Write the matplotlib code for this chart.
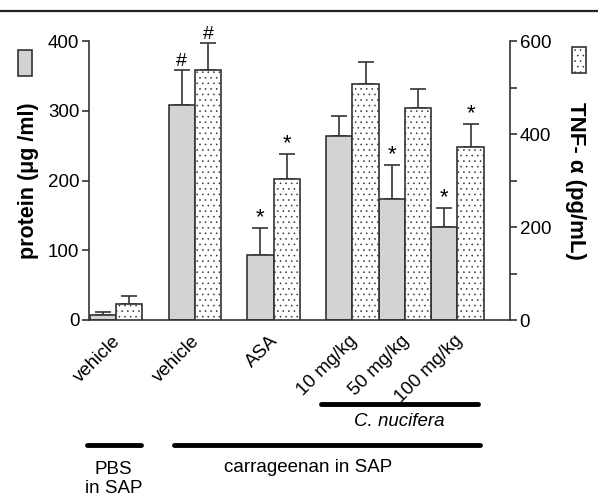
import matplotlib
matplotlib.use("Agg")
import matplotlib.pyplot as plt
from matplotlib.patches import Rectangle
from matplotlib.lines import Line2D
from matplotlib.transforms import ScaledTranslation, blended_transform_factory
import numpy as np

plt.rcParams['font.family'] = ['Liberation Sans', 'DejaVu Sans']
plt.rcParams['hatch.linewidth'] = 0.4

# ---- data ----
categories = ["vehicle", "vehicle", "ASA", "10 mg/kg", "50 mg/kg", "100 mg/kg"]
group_starts = [0, 3, 6, 9, 11, 13]
protein = [7, 308, 93, 264, 174, 133]
protein_err = [4, 51, 39, 28, 48, 27]
tnf = [34, 537, 303, 507, 455, 373]
tnf_err = [18, 58, 53, 47, 42, 48]
protein_marks = ["", "#", "*", "", "*", "*"]
tnf_marks = ["", "#", "*", "", "", "*"]

W, H = 598, 499
fig = plt.figure(figsize=(W / 100, H / 100), dpi=100)
ax = fig.add_axes([89 / W, 1 - 320 / H, (510 - 89) / W, (320 - 41) / H])
ax2 = ax.twinx()

edge = '#333333'
gray = '#d3d3d3'
xs = np.array(group_starts, dtype=float)

ax.bar(xs, protein, width=1, align='edge', color=gray, edgecolor=edge, linewidth=1.2, zorder=2)
ax.errorbar(xs + 0.5, protein, yerr=[np.zeros(len(protein)), protein_err], fmt='none',
            ecolor=edge, elinewidth=1.2, capsize=6, capthick=1.2, zorder=1)
ax2.bar(xs + 1, tnf, width=1, align='edge', color='white', edgecolor=edge, linewidth=1.2,
        hatch='...', zorder=2)
ax2.errorbar(xs + 1.5, tnf, yerr=[np.zeros(len(tnf)), tnf_err], fmt='none',
             ecolor=edge, elinewidth=1.2, capsize=6, capthick=1.2, zorder=1)

for x, v, e, m in zip(xs, protein, protein_err, protein_marks):
    if m:
        ax.annotate(m, (x + 0.5, v + e), xytext=(0, 0), textcoords='offset points',
                    ha='center', va='bottom', fontsize=16 if m == '*' else 14)
for x, v, e, m in zip(xs, tnf, tnf_err, tnf_marks):
    if m:
        ax2.annotate(m, (x + 1.5, v + e), xytext=(0, 0), textcoords='offset points',
                     ha='center', va='bottom', fontsize=16 if m == '*' else 14)

ax.set_xlim(-0.03, 16.0)
ax.set_ylim(0, 400)
ax2.set_ylim(0, 600)
ax.set_yticks([0, 100, 200, 300, 400])
ax2.set_yticks([0, 200, 400, 600])
ax2.set_yticks([100, 300, 500], minor=True)

for a in (ax, ax2):
    a.spines['top'].set_visible(False)
    for s in a.spines.values():
        s.set_linewidth(1.2)
        s.set_color(edge)
ax.spines['right'].set_visible(False)
ax2.spines['left'].set_visible(False)
ax2.spines['bottom'].set_visible(False)

ax.tick_params(axis='y', labelsize=13.5, length=5, width=1.2, color=edge, pad=2)
ax2.tick_params(axis='y', which='both', labelsize=13.5, length=5, width=1.2, color=edge, pad=2)

ax.set_xticks(xs + 1)
ax.set_xticklabels(categories, rotation=45, ha='right', va='top', rotation_mode='anchor', fontsize=13.5)
ax.tick_params(axis='x', length=0, pad=9)
for lbl in ax.get_xticklabels():
    lbl.set_transform(lbl.get_transform() + ScaledTranslation(-4 / 100, 0, fig.dpi_scale_trans))

ax.set_ylabel("protein (\u03bcg /ml)", fontsize=15.5, fontweight='bold', labelpad=6)
ax2.set_ylabel("TNF- \u03b1 (pg/mL)", fontsize=16, fontweight='bold', rotation=270,
               va='bottom', labelpad=10)

# group annotations below the axis
tr = blended_transform_factory(ax.transData, ax.transAxes)
def yfrac(py):
    return (320 - py) / (320 - 41)

ax.add_line(Line2D([8.8, 14.8], [yfrac(404)] * 2, transform=tr, color='black', lw=3.5,
                   solid_capstyle='round', clip_on=False))
ax.text(11.8, yfrac(421), "C. nucifera", transform=tr, ha='center', va='center',
        fontsize=13.5, style='italic')
ax.add_line(Line2D([-0.1, 1.95], [yfrac(445)] * 2, transform=tr, color='black', lw=3.5,
                   solid_capstyle='round', clip_on=False))
ax.add_line(Line2D([3.2, 14.85], [yfrac(445)] * 2, transform=tr, color='black', lw=3.5,
                   solid_capstyle='round', clip_on=False))
ax.text(8.33, yfrac(467), "carrageenan in SAP", transform=tr, ha='center', va='center', fontsize=13.5)
ax.text(0.9, yfrac(479), "PBS\nin SAP", transform=tr, ha='center', va='center', fontsize=13.5,
        linespacing=1.2)

# legend keys
fig.add_artist(Rectangle((18 / W, 1 - 76 / H), 14 / W, 26 / H, transform=fig.transFigure,
                         facecolor=gray, edgecolor=edge, linewidth=1.2))
fig.add_artist(Rectangle((572 / W, 1 - 73 / H), 14 / W, 26 / H, transform=fig.transFigure,
                         facecolor='white', edgecolor=edge, linewidth=1.2, hatch='...'))

# top rule
fig.add_artist(Line2D([0, 1], [1 - 11 / H] * 2, transform=fig.transFigure, color='#222222', lw=1.6))

fig.savefig("out.png", dpi=100)
